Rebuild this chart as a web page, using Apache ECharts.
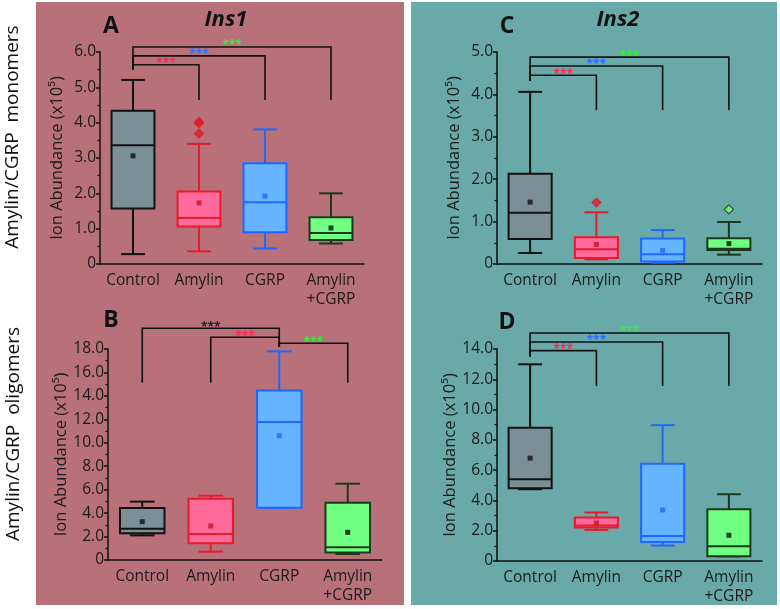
<!DOCTYPE html>
<html>
<head>
<meta charset="utf-8">
<script src="https://cdn.jsdelivr.net/npm/echarts@6/dist/echarts.min.js"></script>
<style>
  html, body { margin: 0; padding: 0; background: #fff; }
  #chart { width: 780px; height: 609px; }
</style>
</head>
<body>
<div id="chart"></div>
<script>
// categories, shared by all 4 panels
const categories = ["Control", "Amylin", "CGRP", "Amylin\n+CGRP"];

// box values: [min, Q1, median, Q3, max] per category
const boxA = [[0.28, 1.57, 3.36, 4.34, 5.21], [0.36, 1.06, 1.30, 2.05, 3.40], [0.44, 0.90, 1.75, 2.85, 3.81], [0.58, 0.68, 0.88, 1.32, 2.00]];
const boxB = [[2.10, 2.28, 2.67, 4.44, 4.98], [0.71, 1.42, 2.22, 5.23, 5.49], [4.46, 4.46, 11.78, 14.45, 17.80], [0.51, 0.63, 1.08, 4.89, 6.51]];
const boxC = [[0.26, 0.59, 1.21, 2.13, 4.06], [0.11, 0.14, 0.35, 0.63, 1.22], [0.03, 0.06, 0.23, 0.60, 0.80], [0.22, 0.33, 0.36, 0.61, 0.99]];
const boxD = [[4.74, 4.81, 5.40, 8.80, 12.99], [2.05, 2.21, 2.34, 2.87, 3.20], [1.02, 1.26, 1.65, 6.42, 8.97], [0.31, 0.31, 0.97, 3.42, 4.41]];

// means
const meanA = [3.06, 1.73, 1.92, 1.02];
const meanB = [3.27, 2.90, 10.60, 2.36];
const meanC = [1.46, 0.46, 0.32, 0.48];
const meanD = [6.79, 2.51, 3.37, 1.70];

// outliers: [category index, value]
const outA = [[1, 4.02], [1, 3.98], [1, 3.69]];
const outB = [];
const outC = [[1, 1.45], [3, 1.29]];
const outD = [];

// significance brackets: [from cat, from drop, to cat, to drop, bar height, star colour idx]
const brA = [[0, 5.49, 1, 4.64, 5.64, 1], [0, 5.49, 2, 4.64, 5.89, 2], [0, 5.49, 3, 4.64, 6.14, 3]];
const brB = [[0, 15.13, 2, 18.2, 19.77, 0], [1, 15.13, 2, 18.2, 19.0, 1], [2, 18.2, 3, 15.13, 18.49, 3]];
const brC = [[0, 4.32, 1, 3.63, 4.45, 1], [0, 4.32, 2, 3.63, 4.67, 2], [0, 4.32, 3, 3.63, 4.88, 3]];
const brD = [[0, 13.49, 1, 11.55, 13.89, 1], [0, 13.49, 2, 11.55, 14.46, 2], [0, 13.49, 3, 11.55, 15.06, 3]];

// y axis ranges
const yMax = [6, 18, 5, 14];
const yStep = [1, 2, 1, 2];

const boxFill = ["#7b9096", "#ff6a9b", "#66b3ff", "#70ff80"];
const boxStroke = ["#111111", "#e41c2c", "#1f68ff", "#1b3a1b"];
const meanColor = ["#111111", "#c4102c", "#1f68ff", "#111111"];
const outFill = ["#111111", "#e41c2c", "#1f68ff", "#70ff80"];
const starColor = ["#222222", "#ff2a55", "#2f6fff", "#2ef03c"];
const font = "Open Sans";

var chart = echarts.init(document.getElementById("chart"));

const grids = [
  { left: 100, right: 416, top: 52, bottom: 345 },
  { left: 108, right: 398, top: 349, bottom: 49 },
  { left: 497, right: 18, top: 52, bottom: 345 },
  { left: 497, right: 18, top: 349, bottom: 48 },
];

function renderBox(params, api) {
  const i = api.value(0);
  const lo = api.coord([i, api.value(1)]);
  const q1 = api.coord([i, api.value(2)]);
  const md = api.coord([i, api.value(3)]);
  const q3 = api.coord([i, api.value(4)]);
  const hi = api.coord([i, api.value(5)]);
  const band = api.size([1, 0])[0];
  const bw = band * 0.65 / 2;
  const cw = band * 0.18;
  const x = lo[0];
  const ls = { stroke: boxStroke[i], lineWidth: 2, fill: null };
  return {
    type: "group",
    children: [
      { type: "line", shape: { x1: x, y1: q3[1], x2: x, y2: hi[1] }, style: ls },
      { type: "line", shape: { x1: x, y1: q1[1], x2: x, y2: lo[1] }, style: ls },
      { type: "line", shape: { x1: x - cw, y1: hi[1], x2: x + cw, y2: hi[1] }, style: ls },
      { type: "line", shape: { x1: x - cw, y1: lo[1], x2: x + cw, y2: lo[1] }, style: ls },
      { type: "rect", shape: { x: x - bw, y: q3[1], width: bw * 2, height: q1[1] - q3[1] },
        style: { fill: boxFill[i], stroke: boxStroke[i], lineWidth: 2 } },
      { type: "line", shape: { x1: x - bw, y1: md[1], x2: x + bw, y2: md[1] }, style: ls },
    ],
  };
}

function renderBracket(params, api) {
  const a = api.coord([api.value(0), api.value(1)]);
  const ah = api.coord([api.value(0), api.value(4)]);
  const b = api.coord([api.value(2), api.value(3)]);
  const bh = api.coord([api.value(2), api.value(4)]);
  return {
    type: "group",
    children: [
      { type: "polyline", shape: { points: [a, ah, bh, b] },
        style: { stroke: "#111", lineWidth: 1.6, fill: null } },
      { type: "text", x: (ah[0] + bh[0]) / 2, y: ah[1] - 1,
        style: { text: "***", fill: starColor[api.value(5)], font: "bold 12px " + font,
          align: "center", verticalAlign: "middle" } },
    ],
  };
}

const boxes = [boxA, boxB, boxC, boxD];
const means = [meanA, meanB, meanC, meanD];
const outs = [outA, outB, outC, outD];
const brs = [brA, brB, brC, brD];

const xAxis = grids.map((g, k) => ({
  type: "category", gridIndex: k, data: categories,
  axisLine: { lineStyle: { color: "#111", width: 1.5 } },
  axisTick: { alignWithLabel: true, length: 4, lineStyle: { color: "#111", width: 1.5 } },
  axisLabel: { color: "#1a1a1a", fontSize: 15.5, fontFamily: font, lineHeight: 19, margin: 7, interval: 0 },
}));

const yAxis = grids.map((g, k) => ({
  type: "value", gridIndex: k, min: 0, max: yMax[k], interval: yStep[k],
  name: "Ion Abundance (x10\u2075)", nameLocation: "middle", nameGap: 34,
  nameTextStyle: { color: "#1a1a1a", fontSize: 16.5, fontFamily: font },
  splitLine: { show: false },
  axisLine: { show: true, lineStyle: { color: "#111", width: 1.5 } },
  axisTick: { show: true, length: 4, lineStyle: { color: "#111", width: 1.5 } },
  minorTick: { show: true, splitNumber: 2, length: 2.5, lineStyle: { color: "#111", width: 1.2 } },
  axisLabel: { color: "#1a1a1a", fontSize: 15.5, fontFamily: font, margin: 4,
    formatter: v => (v === 0 ? "0" : v.toFixed(1)) },
}));

const series = [];
grids.forEach((g, k) => {
  series.push({
    type: "custom", xAxisIndex: k, yAxisIndex: k, renderItem: renderBox, z: 3,
    data: boxes[k].map((b, i) => [i].concat(b)),
  });
  series.push({
    type: "scatter", xAxisIndex: k, yAxisIndex: k, symbol: "rect", symbolSize: 5, z: 5,
    data: means[k].map((v, i) => [i, v]),
    itemStyle: { color: p => meanColor[p.data[0]] },
  });
  series.push({
    type: "scatter", xAxisIndex: k, yAxisIndex: k, symbol: "diamond", symbolSize: 9, z: 5,
    data: outs[k].map(d => ({
      value: d,
      itemStyle: { color: outFill[d[0]], borderColor: boxStroke[d[0]], borderWidth: 1.2 },
    })),
  });
  series.push({
    type: "custom", xAxisIndex: k, yAxisIndex: k, renderItem: renderBracket, clip: false, z: 4,
    data: brs[k],
  });
});

const option = {
  backgroundColor: "#ffffff",
  animation: false,
  grid: grids,
  xAxis: xAxis,
  yAxis: yAxis,
  series: series,
  graphic: [
    { type: "rect", z: -100, shape: { x: 36, y: 2, width: 368, height: 603 }, style: { fill: "#b87179" } },
    { type: "rect", z: -100, shape: { x: 411, y: 2, width: 366, height: 603 }, style: { fill: "#6aa9a9" } },
    { type: "text", x: 111, y: 26, style: { text: "A", font: "bold 23px " + font, fill: "#111", align: "center", verticalAlign: "middle" } },
    { type: "text", x: 111, y: 320, style: { text: "B", font: "bold 23px " + font, fill: "#111", align: "center", verticalAlign: "middle" } },
    { type: "text", x: 507, y: 26, style: { text: "C", font: "bold 23px " + font, fill: "#111", align: "center", verticalAlign: "middle" } },
    { type: "text", x: 507, y: 322, style: { text: "D", font: "bold 23px " + font, fill: "#111", align: "center", verticalAlign: "middle" } },
    { type: "text", x: 226, y: 20, style: { text: "Ins1", font: "italic bold 22px " + font, fill: "#111", align: "center", verticalAlign: "middle" } },
    { type: "text", x: 618, y: 20, style: { text: "Ins2", font: "italic bold 22px " + font, fill: "#111", align: "center", verticalAlign: "middle" } },
    { type: "text", x: 13, y: 137, rotation: Math.PI / 2, style: { text: "Amylin/CGRP  monomers", font: "19px " + font, fill: "#111", align: "center", verticalAlign: "middle" } },
    { type: "text", x: 14, y: 434, rotation: Math.PI / 2, style: { text: "Amylin/CGRP  oligomers", font: "19px " + font, fill: "#111", align: "center", verticalAlign: "middle" } },
  ],
};

chart.setOption(option);
</script>
</body>
</html>
